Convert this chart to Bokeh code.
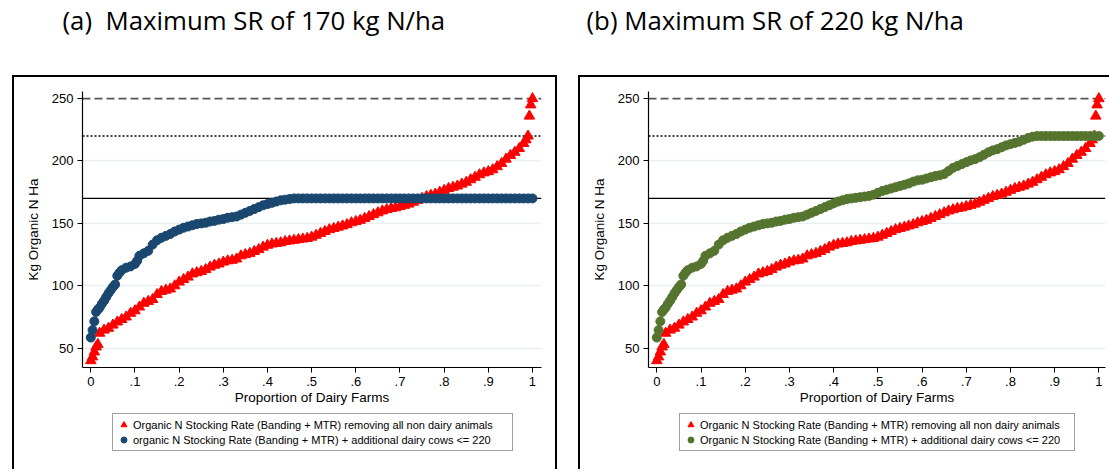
from bokeh.plotting import figure
from bokeh.layouts import column, row
from bokeh.models import Span, Legend, LegendItem, FixedTicker, Range1d
from bokeh.embed import file_html
from bokeh.resources import INLINE
from bokeh.core.properties import value

# ---------------- data ----------------
panel_titles = ["(a)\u00a0 Maximum SR of 170 kg N/ha", "(b) Maximum SR of 220 kg N/ha"]
x_title = "Proportion of Dairy Farms"
y_title = "Kg Organic N Ha"
red_label = "Organic N Stocking Rate (Banding + MTR) removing all non dairy animals"
blue_label = "organic N Stocking Rate (Banding + MTR) + additional dairy cows <= 220"
green_label = "Organic N Stocking Rate (Banding + MTR) + additional dairy cows <= 220"

x_ticks = [0, 0.1, 0.2, 0.3, 0.4, 0.5, 0.6, 0.7, 0.8, 0.9, 1]
x_tick_labels = ["0", ".1", ".2", ".3", ".4", ".5", ".6", ".7", ".8", ".9", "1"]
y_ticks = [50, 100, 150, 200, 250]
ref_lines = [250, 220, 170]

# red series: organic N stocking rate, all non dairy animals removed
red_x = [0.0, 0.004, 0.008, 0.012, 0.016,
         0.02, 0.03, 0.04, 0.05, 0.06, 0.07, 0.08, 0.09, 0.10,
         0.11, 0.12, 0.13, 0.14, 0.15, 0.16, 0.17, 0.18, 0.19, 0.20,
         0.21, 0.22, 0.23, 0.24, 0.25, 0.26, 0.27, 0.28, 0.29, 0.30,
         0.31, 0.32, 0.33, 0.34, 0.35, 0.36, 0.37, 0.38, 0.39, 0.40,
         0.41, 0.42, 0.43, 0.44, 0.45, 0.46, 0.47, 0.48, 0.49, 0.50,
         0.51, 0.52, 0.53, 0.54, 0.55, 0.56, 0.57, 0.58, 0.59, 0.60,
         0.61, 0.62, 0.63, 0.64, 0.65, 0.66, 0.67, 0.68, 0.69, 0.70,
         0.71, 0.72, 0.73, 0.74, 0.75, 0.76, 0.77, 0.78, 0.79, 0.80,
         0.81, 0.82, 0.83, 0.84, 0.85, 0.86, 0.87, 0.88, 0.89, 0.90,
         0.91, 0.92, 0.93, 0.94, 0.95, 0.96, 0.97, 0.98,
         0.985, 0.99, 0.993, 0.996, 1.0]
red_y = [40, 43, 47, 51, 53,
         62, 64.5, 66, 68.5, 71, 73, 75, 78, 80,
         83, 86, 87.5, 89, 93, 95.5, 96.5, 97.5, 100, 103,
         105, 107, 109.5, 110.5, 111.5, 113, 115, 116.5, 117.5, 119,
         120, 120.5, 121.5, 124, 125, 126, 127.5, 129, 131, 132.5,
         133.5, 134, 134.5, 135.5, 136, 136.5, 137, 137.5, 138, 139,
         140.5, 142, 143.5, 145, 146, 147, 148, 149, 150.5, 151.5,
         152.5, 154, 155.5, 157, 158.5, 160, 161, 162, 162.5, 163.5,
         164.5, 165.5, 167, 168.5, 170, 171.5, 172.5, 173.5, 175, 176.5,
         178, 179, 180, 181.5, 183, 185, 187, 189, 190.5, 191.5,
         193, 195.5, 198, 201.5, 204.5, 207, 210, 214,
         217, 220, 236, 245, 250]

# circle series (dairy cows added up to the cap)
dairy_x = [0.0, 0.004, 0.008, 0.012, 0.016, 0.02, 0.025, 0.03, 0.035, 0.04,
           0.045, 0.05, 0.055, 0.06, 0.065, 0.07, 0.08, 0.09, 0.10, 0.105,
           0.11, 0.12, 0.13, 0.14, 0.15, 0.16, 0.17, 0.18, 0.19, 0.20,
           0.21, 0.22, 0.23, 0.24, 0.25, 0.26, 0.27, 0.28, 0.29, 0.30,
           0.31, 0.32, 0.33, 0.34, 0.35, 0.36, 0.37, 0.38, 0.39, 0.40,
           0.41, 0.42, 0.43, 0.44, 0.45, 0.46, 0.47, 0.48, 0.49, 0.50,
           0.51, 0.52, 0.53, 0.54, 0.55, 0.56, 0.57, 0.58, 0.59, 0.60,
           0.61, 0.62, 0.63, 0.64, 0.65, 0.66, 0.67, 0.68, 0.69, 0.70,
           0.71, 0.72, 0.73, 0.74, 0.75, 0.76, 0.77, 0.78, 0.79, 0.80,
           0.81, 0.82, 0.83, 0.84, 0.85, 0.86, 0.87, 0.88, 0.89, 0.90,
           0.91, 0.92, 0.93, 0.94, 0.95, 0.96, 0.97, 0.98, 0.99, 1.0]
blue_y = [58.5, 64.5, 71.5, 79, 81, 82.5, 85.5, 88, 91, 94,
          96.5, 99, 101, 108, 110.5, 112.5, 114.5, 115.5, 117.5, 120,
          124, 126, 128, 133, 136.5, 138.5, 140, 141.5, 143.5, 145,
          146.5, 147.5, 148.5, 149.5, 150, 150.5, 151.5, 152, 153, 153.5,
          154.5, 155, 155.5, 157, 158.5, 160, 161.5, 163, 164.5, 165.5,
          166.5, 167.5, 168.5, 169, 169.5, 170, 170, 170, 170, 170,
          170, 170, 170, 170, 170, 170, 170, 170, 170, 170,
          170, 170, 170, 170, 170, 170, 170, 170, 170, 170,
          170, 170, 170, 170, 170, 170, 170, 170, 170, 170,
          170, 170, 170, 170, 170, 170, 170, 170, 170, 170,
          170, 170, 170, 170, 170, 170, 170, 170, 170, 170]
green_y = [58.5, 64.5, 71.5, 79, 81, 82.5, 85.5, 88, 91, 94,
           96.5, 99, 101, 108, 110.5, 112.5, 114.5, 115.5, 117.5, 120,
           124, 126, 128, 133, 136.5, 138.5, 140, 141.5, 143.5, 145,
           146.5, 147.5, 148.5, 149.5, 150, 150.5, 151.5, 152, 153, 153.5,
           154.5, 155, 155.5, 157, 158.5, 160, 161.5, 163, 164.5, 166,
           167.5, 168.5, 169.5, 170, 170.5, 171, 171.5, 172, 173, 174.5,
           176, 177, 178, 179, 180, 181, 182, 183.5, 184.5, 185,
           186, 187, 188, 188.5, 189.5, 192, 194.5, 196, 197.5, 199,
           200.5, 201.5, 203, 205, 207, 208.5, 209.5, 211, 212.5, 213.5,
           214.5, 215.5, 217, 218.5, 219.5, 220, 220, 220, 220, 220,
           220, 220, 220, 220, 220, 220, 220, 220, 220, 220]

RED = "#ff0000"
NAVY = "#1a476f"
GREEN = "#55752f"
FONT = "Liberation Sans"


def title_fig(text, width, tx):
    t = figure(width=width, height=75, x_range=Range1d(0, width), y_range=Range1d(75, 0),
               x_axis_type=None, y_axis_type=None, toolbar_location=None, title_location=None,
               output_backend="svg", min_border=0, outline_line_color=None)
    t.grid.visible = False
    t.text(x=[tx], y=[19], text=[text], text_font=value("Open Sans"), text_font_size="25.8px",
           text_baseline="alphabetic", text_align="left", text_color="black")
    return t


def panel(width, left_margin, x_end, circ_y, circ_color, circ_label, shadow, leg_left, leg_label_w):
    p = figure(width=width, height=335,
               x_range=Range1d(-0.0188, x_end), y_range=Range1d(34.5, 255.7),
               output_backend="svg", toolbar_location=None, title_location=None,
               min_border_left=70, min_border_right=width - 70 - int(round((x_end + 0.0188) * 442)),
               min_border_top=16, min_border_bottom=43,
               background_fill_color="white", border_fill_color=None,
               outline_line_color=None)
    p.xaxis.ticker = FixedTicker(ticks=x_ticks)
    p.xaxis.major_label_overrides = {t: l for t, l in zip(x_ticks, x_tick_labels)}
    p.yaxis.ticker = FixedTicker(ticks=y_ticks)
    for ax in (p.xaxis, p.yaxis):
        ax.axis_line_color = "black"
        ax.axis_line_width = 1.2
        ax.major_tick_line_color = "black"
        ax.major_tick_line_width = 1
        ax.major_tick_out = 5
        ax.major_tick_in = 0
        ax.minor_tick_line_color = None
        ax.major_label_text_font = FONT
        ax.major_label_text_font_size = "13px"
        ax.major_label_text_color = "black"
        ax.axis_label_text_font = FONT
        ax.axis_label_text_font_size = "13.5px"
        ax.axis_label_text_font_style = "normal"
        ax.axis_label_text_color = "black"
    p.xaxis.axis_label = x_title
    p.xaxis.major_label_standoff = 4
    p.xaxis.axis_label_standoff = 1
    p.yaxis.axis_label = y_title
    p.yaxis.major_label_standoff = 4
    p.yaxis.axis_label_standoff = 8
    p.xgrid.grid_line_color = None
    p.ygrid.ticker = FixedTicker(ticks=y_ticks[:-1])
    p.ygrid.grid_line_color = "#e6eff1"
    p.ygrid.grid_line_width = 1.5

    p.add_layout(Span(location=ref_lines[0], dimension="width", line_color="#555555",
                      line_dash="8 4", line_width=1.6, level="underlay"))
    p.add_layout(Span(location=ref_lines[1], dimension="width", line_color="black",
                      line_dash="2 2", line_width=1.4, level="underlay"))
    p.add_layout(Span(location=ref_lines[2], dimension="width", line_color="black",
                      line_width=1.2, level="underlay"))

    p.scatter(red_x, red_y, marker="triangle", size=10.5, fill_color=RED, line_color=RED)
    p.scatter(dairy_x, circ_y, marker="circle", size=9, fill_color=circ_color, line_color=circ_color)

    # legend strip under the plot: key glyphs reuse the first data point, which
    # lies outside this strip's ranges, so only the legend itself is visible
    lf = figure(width=width, height=59, x_range=Range1d(2, 3), y_range=Range1d(2, 3),
                x_axis_type=None, y_axis_type=None, toolbar_location=None, title_location=None,
                output_backend="svg", min_border=0, outline_line_color=None,
                background_fill_color=None, border_fill_color=None)
    lf.grid.visible = False
    k1 = lf.scatter(red_x[:1], red_y[:1], marker="triangle", size=9, fill_color=RED, line_color=RED)
    k2 = lf.scatter(dairy_x[:1], circ_y[:1], marker="circle", size=7,
                    fill_color=circ_color, line_color=circ_color)
    leg = Legend(items=[LegendItem(label=red_label, renderers=[k1]),
                        LegendItem(label=circ_label, renderers=[k2])],
                 location=(leg_left, 18), orientation="vertical",
                 border_line_color="#404040", border_line_width=1.2,
                 background_fill_color="white", background_fill_alpha=1,
                 label_text_font=FONT, label_text_font_size="11px", label_text_color="black",
                 padding=3, spacing=0, margin=0, glyph_width=15, glyph_height=15,
                 label_height=15, label_width=leg_label_w, label_standoff=2)
    lf.add_layout(leg)
    return column(p, lf, margin=(0, 0, 0, left_margin), styles={"box-shadow": shadow})


tA = title_fig(panel_titles[0], 566, 62)
tB = title_fig(panel_titles[1], 543, 20)

pA = panel(545, 12, 1.0204, blue_y, NAVY, blue_label,
           "inset 2px 2px 0 0 #000, inset -2px 0 0 0 #000", 30, 376)
pB = panel(531, 21, 1.015, green_y, GREEN, green_label,
           "inset 2px 2px 0 0 #000", 31, 371)

layout = column(row(tA, tB), row(pA, pB))
open("out.html", "w").write(file_html(layout, INLINE))
